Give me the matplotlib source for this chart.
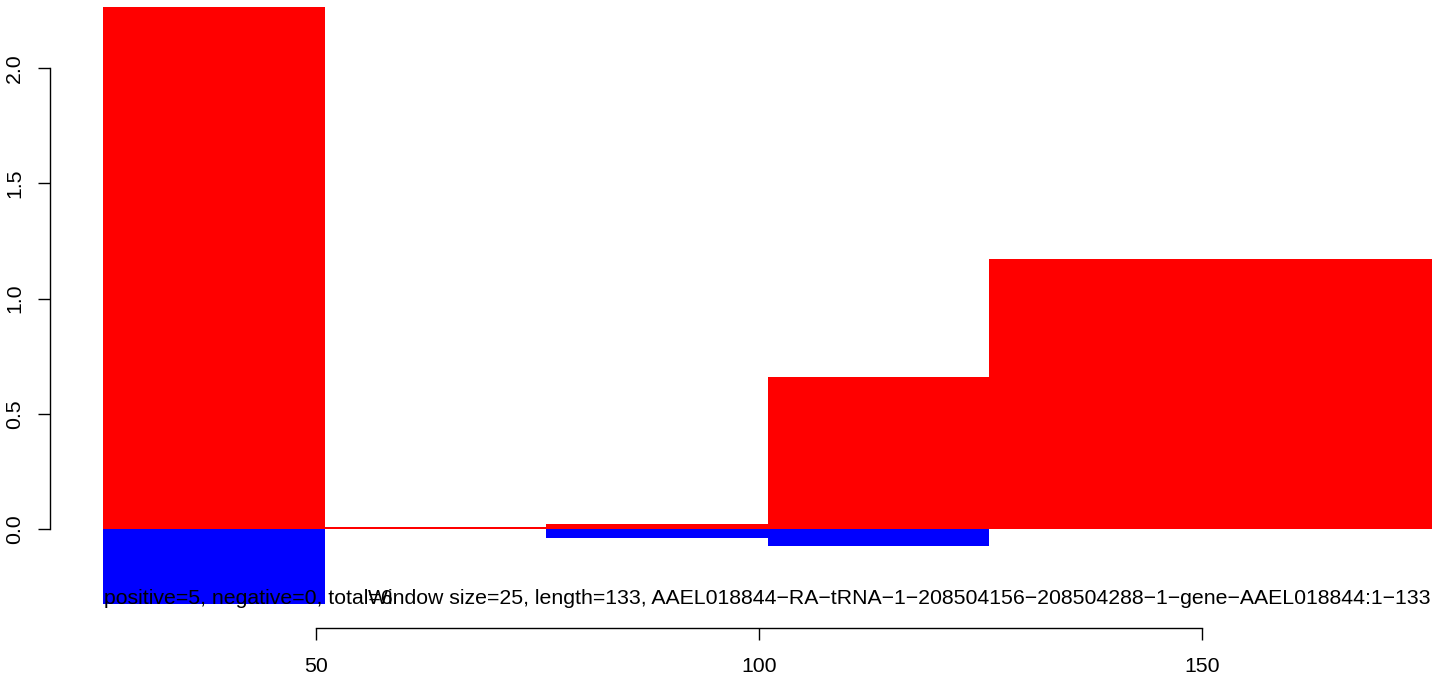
import matplotlib
matplotlib.use('Agg')
import matplotlib.pyplot as plt

# window starts (window size 25) and values above / below zero
starts = [26, 51, 76, 101, 126, 151]
win = 25
pos_vals = [2.266, 0.012, 0.023, 0.660, 1.172, 1.172]
neg_vals = [-0.324, 0.0, -0.037, -0.071, 0.0, 0.0]
x_ticks = [50, 100, 150]
y_ticks = [0.0, 0.5, 1.0, 1.5, 2.0]

left_text = 'positive=5, negative=0, total=6'
right_text = ('Window size=25, length=133, '
              'AAEL018844\u2212RA\u2212tRNA\u22121\u2212208504156\u2212208504288'
              '\u22121\u2212gene\u2212AAEL018844:1\u2212133')

plt.rcParams['font.family'] = ['Liberation Sans', 'DejaVu Sans']

W, H = 1444, 679
fig = plt.figure(figsize=(W / 100, H / 100), dpi=100)
ax = fig.add_axes([50 / W, (H - 628) / H, (W - 50) / W, 628 / H])

ax.bar(starts, pos_vals, width=win, align='edge', color='#ff0000', linewidth=0)
ax.bar(starts, neg_vals, width=win, align='edge', color='#0000ff', linewidth=0)

ax.set_xlim(19.97, 177.36)
ax.set_ylim(-0.428, 2.295)

for s in ['top', 'right']:
    ax.spines[s].set_visible(False)
ax.spines['left'].set_bounds(0, 2)
ax.spines['bottom'].set_bounds(50, 150)
for s in ['left', 'bottom']:
    ax.spines[s].set_linewidth(1.0)

ax.set_xticks(x_ticks)
ax.set_xticklabels([str(t) for t in x_ticks])
ax.set_yticks(y_ticks)
ax.set_yticklabels(['%.1f' % t for t in y_ticks], rotation=90, va='center')
ax.tick_params(axis='both', direction='out', length=8.6, width=1.0, labelsize=15.3)
ax.tick_params(axis='x', pad=12)
ax.tick_params(axis='y', pad=10)

fig.text(104 / W, (H - 604) / H, left_text, ha='left', va='baseline', fontsize=15.3)
fig.text(1431 / W, (H - 604) / H, right_text, ha='right', va='baseline', fontsize=15.3)

fig.savefig('out.png', dpi=100)
